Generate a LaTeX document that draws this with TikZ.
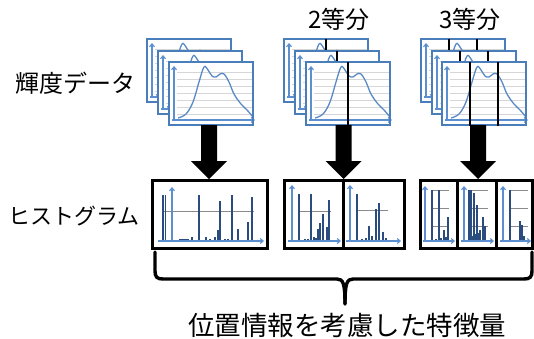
\documentclass[tikz,border=0pt]{standalone}
\usepackage{fontspec}
\setmainfont{Noto Sans CJK JP}
\usetikzlibrary{arrows.meta,calc}
\definecolor{cardb}{HTML}{4A7EBB}
\definecolor{curvec}{HTML}{5A8AC6}
\definecolor{gridc}{HTML}{D6D6D6}
\definecolor{axisc}{HTML}{5B8FD0}
\definecolor{barc}{HTML}{2B4C7E}
\definecolor{hgray}{HTML}{8A8A8A}
\tikzset{
  cardframe/.style={draw=cardb,line width=1.8pt},
  gridline/.style={draw=gridc,line width=0.8pt},
  cardaxis/.style={draw=axisc,line width=1.1pt,-{Straight Barb[length=3pt,width=5pt]}},
  cardcurve/.style={draw=curvec,line width=1.3pt},
  splitline/.style={draw=black,line width=2.6pt},
  histbox/.style={draw=black,line width=3pt},
  histaxis/.style={draw=axisc,line width=1.1pt,-{Straight Barb[length=3pt,width=5pt]}},
  histgray/.style={draw=hgray,line width=0.8pt},
  histbar/.style={draw=barc,line width=1.2pt},
  bigarrow/.style={fill=black},
  lbl/.style={inner sep=0pt,anchor=center},
  bracepath/.style={draw=black,line width=3.4pt,line join=round,line cap=round}
}
% card: x, y (top-left), list of split positions (relative x)
\newcommand\mycard[3]{%
  \begin{scope}[shift={(#1,#2)}]
    \fill[white] (0,0) rectangle (84,63);
    \foreach \yy in {10,17,24,31,38,45,52} \draw[gridline] (8,\yy) -- (83,\yy);
    \draw[cardaxis] (5,58) -- (5,4);
    \draw[cardaxis] (3,58) -- (86,58);
    \draw[cardcurve] plot[smooth,tension=0.6] coordinates {(9,56) (17,52) (24,40) (30,20) (35,5) (39,8) (43,14) (47,15) (51,12) (55,12) (60,20) (65,32) (72,42) (78,48) (84,55)};
    \draw[cardframe] (0,0) rectangle (84,63);
    \foreach \sx in {#3} \draw[splitline] (\sx,-0.5) -- (\sx,63.5);
  \end{scope}}
\newcommand\mybars[2]{% baseline y, list of x/top
  \foreach \bx/\bt in {#2} \draw[histbar] (\bx,#1) -- (\bx,\bt);}
\begin{document}
\begin{tikzpicture}[x=1pt,y=-1pt]
\useasboundingbox (0,0) rectangle (534,338);
\fill[white] (0,0) rectangle (534,338);

% ---- labels ----
\node[lbl,font=\fontsize{24}{24}\selectfont] (lbl1) at (75,83) {輝度データ};
\node[lbl,font=\fontsize{22}{22}\selectfont] (lbl2) at (74,216) {ヒストグラム};
\node[lbl,font=\fontsize{24}{24}\selectfont] (t2) at (339,19) {2等分};
\node[lbl,font=\fontsize{24}{24}\selectfont] (t3) at (470,19) {3等分};
\node[lbl,font=\fontsize{26.5}{26.5}\selectfont] (feat) at (347,325) {位置情報を考慮した特徴量};

% ---- stacks of luminance cards ----
\mycard{147}{39}{}
\mycard{158}{51}{}
\mycard{169}{62}{}
\mycard{284}{39}{42}
\mycard{295}{51}{42}
\mycard{306}{62}{42}
\mycard{421}{39}{28,56}
\mycard{432}{51}{28,56}
\mycard{442}{62}{28,56}

% ---- arrows ----
\coordinate (a1) at (209,125); \coordinate (b1) at (209,179);
\coordinate (a2) at (343.5,125); \coordinate (b2) at (343.5,179);
\coordinate (a3) at (478,125); \coordinate (b3) at (478,179);
\foreach \a/\b in {a1/b1,a2/b2,a3/b3}
  \fill[bigarrow] ($(\a)+(-8,0)$) -- ($(\a)+(8,0)$) -- ($(\b)+(8,-18)$) -- ($(\b)+(18,-18)$) -- (\b) -- ($(\b)+(-18,-18)$) -- ($(\b)+(-8,-18)$) -- cycle;

% ---- histogram box 1 ----
\fill[white] (152,180) rectangle (267,248);
\draw[histgray] (163,211) -- (254,211);
\mybars{241}{163/195,165.5/195,199/195,220/201,218/230,232/195,252/197,192/237,206/237,215/237,238/229,248/222,180/239,182/239,184/239,186/239,188/239,225/239,228/239,210/239}
\draw[histaxis] (172,241) -- (172,187);
\draw[histaxis] (158,241) -- (264,241);
\draw[histbox] (152,180) rectangle (267,248);

% ---- histogram box 2 ----
\draw[histgray] (300,211) -- (331,211);
\mybars{241}{299/194,311/194,329/200,323/214,318/229,320/223,327/227,305/239,308/239,314/237,316/238}
\draw[histaxis] (292,241) -- (292,185);
\draw[histaxis] (288,241) -- (341,241);
\draw[histgray] (358,210) -- (388,210);
\mybars{241}{357/194,376/209,379/203,369/226,383/232,372/236,366/238,362/239,386/238}
\draw[histaxis] (350,241) -- (350,185);
\draw[histaxis] (346,241) -- (401,241);
\draw[histbox] (284,180) rectangle (404,248);
\draw[histbox] (343.5,180) -- (343.5,248);

% ---- histogram box 3 ----
\foreach \gy in {190,208,226} {
  \draw[histgray] (432,\gy) -- (449,\gy);
  \draw[histgray] (470,\gy) -- (488,\gy);
  \draw[histgray] (510,\gy) -- (528,\gy);}
\mybars{241}{432/190,439/190,444/230,448/217,441/238,446/237,436/239}
\draw[histaxis] (425,241) -- (425,186);
\draw[histaxis] (423,241) -- (455,241);
\fill[barc] (470,236) rectangle (480,241);
\mybars{241}{469/190,471/190,474/193,477/205,480/230,483/217,485/226,472/236,475/234,478/233}
\draw[histaxis] (464,241) -- (464,186);
\draw[histaxis] (461,241) -- (494,241);
\mybars{241}{510/190,520/221,522/225,524/236}
\draw[histaxis] (503,241) -- (503,186);
\draw[histaxis] (500,241) -- (531,241);
\draw[histbox] (420,180) rectangle (532.5,248);
\draw[histbox] (457,180) -- (457,248);
\draw[histbox] (496,180) -- (496,248);

% ---- brace ----
\coordinate (brL) at (155,252);
\coordinate (brR) at (532,252);
\coordinate (brT) at (345,304);
\draw[bracepath] (brL) -- (155,271) .. controls (155,277) and (157,279) .. (163,279) -- (337,279) .. controls (343,279) and (345,283) .. (brT);
\draw[bracepath] (brR) -- (532,271) .. controls (532,277) and (530,279) .. (524,279) -- (353,279) .. controls (347,279) and (345,283) .. (brT);
\end{tikzpicture}
\end{document}
